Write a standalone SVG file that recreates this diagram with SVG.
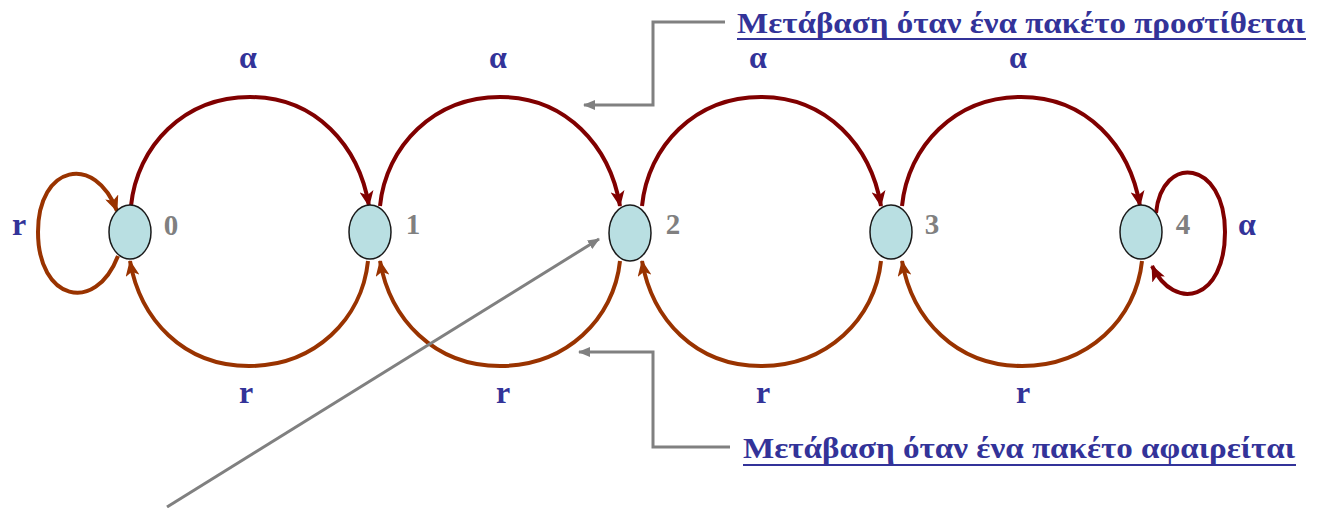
<svg xmlns="http://www.w3.org/2000/svg" width="1319" height="508" viewBox="0 0 1319 508">
<defs>
<style>
.a{fill:none;stroke:#800000;stroke-width:4;marker-end:url(#ha)}
.r{fill:none;stroke:#993300;stroke-width:4;marker-end:url(#hr)}
.g{fill:none;stroke:#808080;stroke-width:3;marker-end:url(#hg)}
.node{fill:#b9dfe2;stroke:#1a1a1a;stroke-width:1.5}
.num{font-family:"Liberation Serif","DejaVu Serif",serif;font-weight:bold;font-size:29px;fill:#808080;text-anchor:middle}
.lbl{font-family:"Liberation Serif","DejaVu Serif",serif;font-weight:bold;font-size:32px;fill:#333399;text-anchor:middle}
.ttl{font-family:"Liberation Serif","DejaVu Serif",serif;font-weight:bold;font-size:30px;fill:#333399}
.ul{stroke:#333399;stroke-width:2}
</style>
<marker id="ha" viewBox="0 0 16 14" refX="15" refY="7" markerWidth="16" markerHeight="14" markerUnits="userSpaceOnUse" orient="auto"><path d="M0,0 L16,7 L0,14 L4,7 z" fill="#800000"/></marker>
<marker id="hr" viewBox="0 0 16 14" refX="15" refY="7" markerWidth="16" markerHeight="14" markerUnits="userSpaceOnUse" orient="auto"><path d="M0,0 L16,7 L0,14 L4,7 z" fill="#993300"/></marker>
<marker id="hg" viewBox="0 0 12 10" refX="11" refY="5" markerWidth="12" markerHeight="10" markerUnits="userSpaceOnUse" orient="auto"><path d="M0,0 L12,5 L0,10 z" fill="#808080"/></marker>
</defs>
<rect width="1319" height="508" fill="#ffffff"/>
<g id="connectors">
<path class="a" d="M131,206 C137,146 184,97 250,97 C316,97 359,146 369,206"/>
<path class="a" d="M380,206 C386,146 434,97 500,97 C566,97 610,146 620,206"/>
<path class="a" d="M642,206 C648,146 695,97 761,97 C827,97 871,146 881,206"/>
<path class="a" d="M902,206 C908,146 955,97 1021,97 C1087,97 1130,146 1140,206"/>
<path class="r" d="M368,261 C362,319 315,366 249,366 C183,366 140,319 130,261"/>
<path class="r" d="M620,261 C614,319 566,366 500,366 C434,366 390,319 380,261"/>
<path class="r" d="M881,261 C875,319 827,366 761,366 C695,366 652,319 642,261"/>
<path class="r" d="M1142,261 C1136,319 1088,366 1022,366 C956,366 912,319 902,261"/>
<path class="r" d="M118,256 C95,315 38,300 38,232 C38,165 95,153 117,211"/>
<path class="a" d="M1156,213 C1162,153 1225,160 1225,232 C1225,300 1175,313 1152,266"/>
<polyline class="g" points="725,22 653,22 653,105 584,105"/>
<polyline class="g" points="730,447 653,447 653,352 579,352"/>
<line class="g" x1="167" y1="507" x2="599" y2="239"/>
</g>
<g id="node0"><ellipse class="node" cx="130" cy="232" rx="21" ry="27"/><text class="num" x="171" y="235">0</text></g>
<g id="node1"><ellipse class="node" cx="370" cy="232" rx="21" ry="27"/><text class="num" x="413" y="234">1</text></g>
<g id="node2"><ellipse class="node" cx="630" cy="233" rx="21" ry="28"/><text class="num" x="673" y="234">2</text></g>
<g id="node3"><ellipse class="node" cx="891" cy="232" rx="21" ry="27"/><text class="num" x="932" y="234">3</text></g>
<g id="node4"><ellipse class="node" cx="1141" cy="232" rx="21" ry="27"/><text class="num" x="1183" y="234">4</text></g>
<g id="labels">
<text class="lbl" x="248" y="68">α</text>
<text class="lbl" x="498" y="68">α</text>
<text class="lbl" x="758" y="68">α</text>
<text class="lbl" x="1018" y="68">α</text>
<text class="lbl" x="246" y="403">r</text>
<text class="lbl" x="503" y="403">r</text>
<text class="lbl" x="763" y="403">r</text>
<text class="lbl" x="1023" y="403">r</text>
<text class="lbl" x="19" y="235">r</text>
<text class="lbl" x="1247" y="235">α</text>
</g>
<g id="note-add">
<text class="ttl" x="737" y="33" textLength="568" lengthAdjust="spacingAndGlyphs">Μετάβαση όταν ένα πακέτο προστίθεται</text>
<line class="ul" x1="737" y1="39" x2="1306" y2="39"/>
</g>
<g id="note-remove">
<text class="ttl" x="743" y="458" textLength="552" lengthAdjust="spacingAndGlyphs">Μετάβαση όταν ένα πακέτο αφαιρείται</text>
<line class="ul" x1="743" y1="465" x2="1296" y2="465"/>
</g>
</svg>
